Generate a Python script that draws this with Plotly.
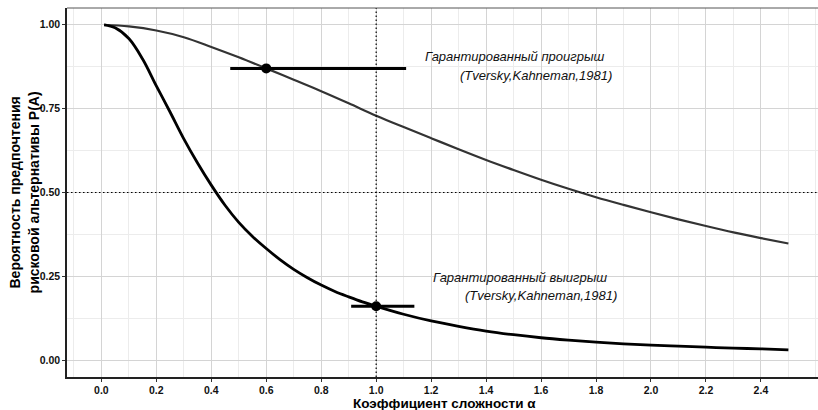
import plotly.graph_objects as go

# ---- data ----
loss_x = [0.01, 0.1, 0.2, 0.3, 0.4, 0.5, 0.6, 0.7, 0.8, 0.9, 1.0, 1.1, 1.2,
          1.3, 1.4, 1.5, 1.6, 1.7, 1.8, 1.9, 2.0, 2.1, 2.2, 2.3, 2.4, 2.5]
loss_y = [1.0, 0.995, 0.983, 0.963, 0.934, 0.903, 0.870, 0.836, 0.802, 0.766,
          0.729, 0.695, 0.662, 0.629, 0.597, 0.567, 0.538, 0.511, 0.486, 0.463,
          0.441, 0.420, 0.400, 0.381, 0.364, 0.348]

gain_x = [0.01, 0.05, 0.1, 0.15, 0.2, 0.25, 0.3, 0.35, 0.4, 0.45, 0.5, 0.55,
          0.6, 0.65, 0.7, 0.75, 0.8, 0.85, 0.9, 0.95, 1.0, 1.1, 1.2, 1.3, 1.4,
          1.5, 1.6, 1.7, 1.8, 1.9, 2.0, 2.1, 2.2, 2.3, 2.4, 2.5]
gain_y = [1.0, 0.991, 0.959, 0.898, 0.818, 0.740, 0.660, 0.588, 0.522, 0.462,
          0.411, 0.369, 0.333, 0.300, 0.271, 0.246, 0.224, 0.205, 0.189, 0.174,
          0.161, 0.137, 0.117, 0.101, 0.087, 0.076, 0.067, 0.060, 0.054, 0.049,
          0.045, 0.042, 0.039, 0.036, 0.034, 0.031]

obs_x = [0.6, 1.0]
obs_y = [0.870, 0.161]
obs_lo = [0.469, 0.909]
obs_hi = [1.109, 1.139]

ref_x = 1.0
ref_y = 0.5

x_ticks = [0.0, 0.2, 0.4, 0.6, 0.8, 1.0, 1.2, 1.4, 1.6, 1.8, 2.0, 2.2, 2.4]
y_ticks = [0.0, 0.25, 0.5, 0.75, 1.0]

labels = [
    ("Гарантированный проигрыш", 1.502, 0.906),
    ("(Tversky,Kahneman,1981)", 1.580, 0.850),
    ("Гарантированный выигрыш", 1.522, 0.247),
    ("(Tversky,Kahneman,1981)", 1.600, 0.193),
]

x_title = "Коэффициент сложности α"
y_title = "Вероятность предпочтения<br>рисковой альтернативы P(A)"

FONT = "Liberation Sans, Arial, Helvetica, sans-serif"

fig = go.Figure()

fig.add_trace(go.Scatter(x=loss_x, y=loss_y, mode="lines",
                         line=dict(color="#333333", width=2.2, shape="spline", smoothing=1),
                         hoverinfo="skip", showlegend=False))
fig.add_trace(go.Scatter(x=gain_x, y=gain_y, mode="lines",
                         line=dict(color="#000000", width=2.8, shape="spline", smoothing=1),
                         hoverinfo="skip", showlegend=False))

fig.add_trace(go.Scatter(
    x=obs_x, y=obs_y, mode="markers",
    marker=dict(color="#000000", size=10),
    error_x=dict(type="data", symmetric=False,
                 array=[h - x for h, x in zip(obs_hi, obs_x)],
                 arrayminus=[x - l for l, x in zip(obs_lo, obs_x)],
                 color="#000000", thickness=3, width=0),
    hoverinfo="skip", showlegend=False))

fig.add_shape(type="line", xref="x", yref="paper", x0=ref_x, x1=ref_x, y0=0, y1=1,
              line=dict(color="#000000", width=1.2, dash="1.5px,2.5px"), layer="above")
fig.add_shape(type="line", xref="paper", yref="y", x0=0, x1=1, y0=ref_y, y1=ref_y,
              line=dict(color="#000000", width=1.2, dash="1.5px,2.5px"), layer="above")

# top border of the panel
fig.add_shape(type="line", xref="paper", yref="paper", x0=0, x1=1, y0=1, y1=1,
              line=dict(color="#555555", width=1))

for text, lx, ly in labels:
    fig.add_annotation(x=lx, y=ly, text=text, showarrow=False,
                       font=dict(family=FONT, size=13, color="#111111", style="italic"),
                       xanchor="center", yanchor="middle")

fig.add_annotation(x=0.5 * (-0.125 + 2.625), y=-0.073, xref="x", yref="paper",
                   text=x_title, showarrow=False,
                   font=dict(family=FONT, size=13.5, color="#000000", weight="bold"),
                   xanchor="center", yanchor="middle")
fig.add_annotation(x=-0.0574, y=0.5, xref="paper", yref="y",
                   text=y_title, showarrow=False, textangle=-90,
                   font=dict(family=FONT, size=14, color="#000000", weight="bold"),
                   xanchor="center", yanchor="middle")

fig.update_xaxes(range=[-0.125, 2.6077], tickvals=x_ticks,
                 ticktext=[f"{v:.1f}" for v in x_ticks],
                 showgrid=True, gridcolor="#d4d4d4", gridwidth=1,
                 minor=dict(dtick=0.1, tick0=0, showgrid=True, gridcolor="#ececec", gridwidth=1),
                 showline=True, linecolor="#222222", linewidth=1.5,
                 ticks="outside", ticklen=3, tickcolor="#333333", tickwidth=1,
                 tickfont=dict(family=FONT, size=10.5, color="#111111", weight="bold"),
                 zeroline=False, automargin=False, fixedrange=True)
fig.update_yaxes(range=[-0.05, 1.05], tickvals=y_ticks,
                 ticktext=[f"{v:.2f}" for v in y_ticks],
                 showgrid=True, gridcolor="#d4d4d4", gridwidth=1,
                 minor=dict(dtick=0.125, tick0=0, showgrid=True, gridcolor="#ececec", gridwidth=1),
                 showline=True, linecolor="#222222", linewidth=1.5,
                 ticks="outside", ticklen=3, tickcolor="#333333", tickwidth=1,
                 tickfont=dict(family=FONT, size=10.5, color="#111111", weight="bold"),
                 zeroline=False, automargin=False, fixedrange=True)

fig.update_layout(width=818, height=410,
                  margin=dict(l=67, r=0, t=8, b=33),
                  paper_bgcolor="white", plot_bgcolor="white",
                  showlegend=False)

fig.write_html("out.html", config={"displayModeBar": False},
               post_script="document.body.style.margin='0';document.body.style.overflow='hidden';")
